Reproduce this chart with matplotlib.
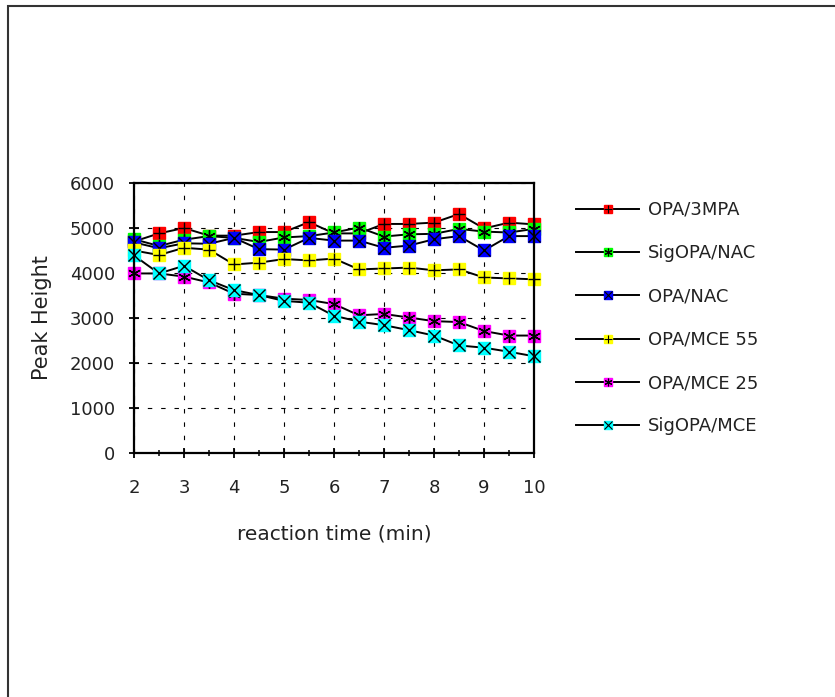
import matplotlib.pyplot as plt
from matplotlib.lines import Line2D
from matplotlib.patches import Rectangle
from matplotlib.ticker import MultipleLocator

plt.rcParams["font.family"] = ["DejaVu Sans"]

# %%
reaction_time = [2, 2.5, 3, 3.5, 4, 4.5, 5, 5.5, 6, 6.5, 7, 7.5, 8, 8.5, 9, 9.5, 10]

opa_3mpa = [4700, 4880, 5000, 4830, 4830, 4910, 4910, 5130, 4880, 4880, 5090, 5090, 5120, 5310, 4990, 5120, 5080]
sigopa_nac = [4750, 4600, 4740, 4820, 4780, 4690, 4790, 4820, 4900, 5010, 4810, 4860, 4870, 4980, 4920, 4900, 4980]
opa_nac = [4680, 4550, 4660, 4650, 4780, 4530, 4520, 4780, 4720, 4720, 4560, 4610, 4750, 4820, 4500, 4820, 4820]
opa_mce55 = [4500, 4400, 4560, 4520, 4190, 4230, 4310, 4280, 4320, 4080, 4100, 4120, 4060, 4080, 3900, 3880, 3860]
opa_mce25 = [3990, 3990, 3920, 3790, 3540, 3510, 3430, 3400, 3310, 3060, 3090, 3010, 2930, 2910, 2710, 2610, 2610]
sigopa_mce = [4390, 3990, 4160, 3840, 3620, 3510, 3380, 3340, 3050, 2920, 2840, 2730, 2610, 2390, 2340, 2250, 2150]

labels = ["OPA/3MPA", "SigOPA/NAC", "OPA/NAC", "OPA/MCE 55", "OPA/MCE 25", "SigOPA/MCE"]
colors = ["#ff0000", "#00ff00", "#0000ff", "#ffff00", "#ff00ff", "#00ffff"]
asterisk = (6, 2, 0)
symbols = ["+", asterisk, "x", "+", asterisk, "x"]
series = [opa_3mpa, sigopa_nac, opa_nac, opa_mce55, opa_mce25, sigopa_mce]


# %%
fig = plt.figure(figsize=(8.35, 6.97), dpi=100)
ax = fig.add_axes([134 / 835, 1 - 453 / 697, 400 / 835, 270 / 697])

handles = []
for vals, col, sym, lab in zip(series, colors, symbols, labels):
    ax.plot(reaction_time, vals, color="black", lw=1.4, marker="s", ms=9,
            mfc=col, mec=col, clip_on=False)
    ax.plot(reaction_time, vals, ls="none", marker=sym, ms=9, mec="black",
            mew=1.0, clip_on=False)
    line = Line2D([], [], color="black", lw=1.4, marker="s", ms=5.5, mfc=col, mec=col)
    mark = Line2D([], [], ls="none", marker=sym, ms=5.5, mec="black", mew=0.8)
    handles.append((line, mark))

ax.set_xlim(2, 10)
ax.set_ylim(0, 6000)
ax.xaxis.set_major_locator(MultipleLocator(1))
ax.xaxis.set_minor_locator(MultipleLocator(0.5))
ax.yaxis.set_major_locator(MultipleLocator(1000))
ax.grid(True, which="major", color="black", lw=0.8, ls=(0, (4, 8)))
for side in ax.spines.values():
    side.set_linewidth(1.6)
ax.tick_params(which="major", direction="inout", length=7, width=1.3, labelsize=13,
               labelcolor="#222222")
ax.tick_params(which="minor", direction="inout", length=4, width=1.1)
ax.tick_params(axis="x", pad=15)
ax.tick_params(axis="y", pad=10)

ax.set_xlabel("reaction time (min)", fontsize=14.5, labelpad=20, color="#222222")
ax.set_ylabel("Peak Height", fontsize=15, labelpad=13, color="#222222")

leg = fig.legend(handles, labels, loc="upper left", bbox_to_anchor=(576 / 835, 1 - 201 / 697),
                 frameon=False, fontsize=13, handlelength=3.5, handletextpad=0.5,
                 labelspacing=1.4, borderpad=0, borderaxespad=0)
for txt in leg.get_texts():
    txt.set_color("#222222")

fig.add_artist(Rectangle((8 / 835, -0.1), 2, 1.1 - 6 / 697, transform=fig.transFigure,
                         fill=False, lw=1.5, ec="#333333"))

fig.savefig("out.png", dpi=100)
